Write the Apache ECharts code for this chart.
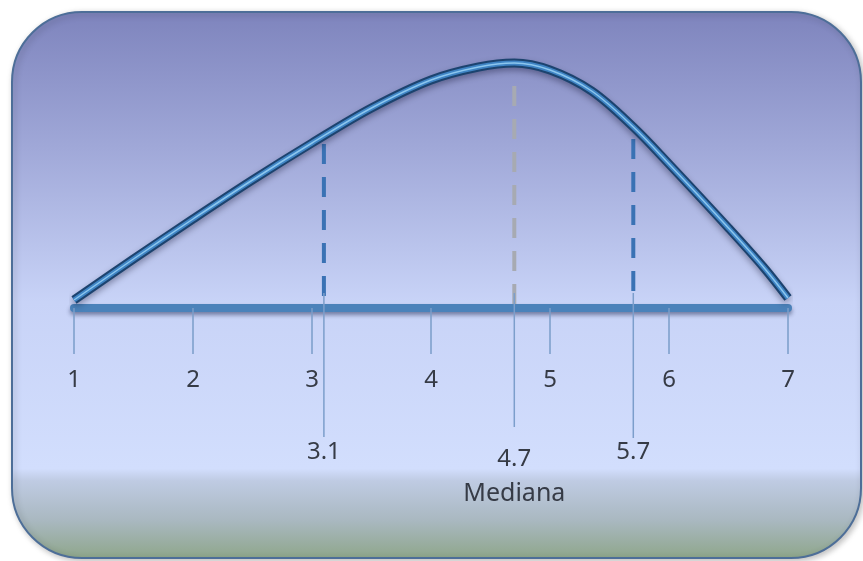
<!DOCTYPE html>
<html>
<head>
<meta charset="utf-8">
<script src="https://cdn.jsdelivr.net/npm/echarts@6/dist/echarts.min.js"></script>
<style>
  html, body { margin: 0; padding: 0; background: #ffffff; }
  #chart { width: 863px; height: 561px; }
</style>
</head>
<body>
<div id="chart"></div>
<script>
// ---- data ----
const xTicks = [1, 2, 3, 4, 5, 6, 7];
const curveX = [1, 1.5, 2, 2.5, 3, 3.5, 4, 4.4, 4.7, 5, 5.35, 5.7, 6, 6.5, 6.8, 7];
const curveY = [8, 49, 89, 128, 165, 200, 228, 241, 245, 238, 217, 181, 144, 80, 40, 10];
const markerValues = [3.1, 4.7, 5.7];
const markerLabels = ['3.1', '4.7', '5.7'];
const markerDashTop = [164, 222, 169];
const markerNotes = ['', 'Mediana', ''];

// ---- layout / style (not data) ----
const markerStyle = [
  { dash: '#3a72b4', below: 129, labelDy: 144, noteDy: 0 },
  { dash: '#a7aab2', below: 119, labelDy: 151, noteDy: 186 },
  { dash: '#3a72b4', below: 130, labelDy: 144, noteDy: 0 }
];
const FONT = '"Noto Sans", "Open Sans", sans-serif';
const TEXT = '#363b46';

const curveData = curveX.map((x, i) => [x, curveY[i]]);
const markerData = markerValues.map((v, i) => [v, markerDashTop[i]]);

const chart = echarts.init(document.getElementById('chart'));

const option = {
  animation: false,
  graphic: {
    elements: [{
      type: 'rect',
      z: -100,
      shape: { x: 12, y: 12, width: 849, height: 546, r: 70 },
      style: {
        fill: new echarts.graphic.LinearGradient(0, 0, 0, 1, [
          { offset: 0, color: '#7e84bd' },
          { offset: 0.25, color: '#a0a8d8' },
          { offset: 0.53, color: '#c8d3f7' },
          { offset: 0.835, color: '#d2defd' },
          { offset: 0.857, color: '#bfcbe3' },
          { offset: 0.93, color: '#a9b8c0' },
          { offset: 1, color: '#8ea68a' }
        ]),
        stroke: '#4d6e98',
        lineWidth: 2,
        shadowBlur: 6,
        shadowColor: 'rgba(0,0,0,0.25)',
        shadowOffsetX: 2,
        shadowOffsetY: 2
      }
    }]
  },
  grid: { left: 74, right: 75, top: 58, bottom: 253, containLabel: false, outerBoundsMode: 'none' },
  xAxis: {
    type: 'value',
    min: 1,
    max: 7,
    interval: 1,
    axisLine: {
      lineStyle: {
        color: '#4b82ba',
        width: 8,
        shadowColor: 'rgba(10,20,60,0.45)',
        shadowBlur: 4,
        shadowOffsetY: 3
      }
    },
    axisTick: { show: true, length: 46, lineStyle: { color: '#7b9dc9', width: 1.5 } },
    axisLabel: {
      margin: 60,
      fontSize: 24,
      fontFamily: FONT,
      color: TEXT,
      formatter: (v) => xTicks.includes(v) ? String(v) : ''
    },
    splitLine: { show: false }
  },
  yAxis: {
    type: 'value',
    min: 0,
    max: 250,
    show: false,
    splitLine: { show: false }
  },
  series: [
    {
      type: 'custom',
      z: 1,
      clip: false,
      data: markerData,
      renderItem: function (params, api) {
        const i = params.dataIndex;
        const v = api.value(0);
        const top = api.coord([v, api.value(1)]);
        const base = api.coord([v, 0]);
        const st = markerStyle[i];
        const children = [
          {
            type: 'line',
            shape: { x1: base[0], y1: top[1], x2: base[0], y2: base[1] - 4 },
            style: { stroke: st.dash, lineWidth: 4, lineDash: [20, 13] }
          },
          {
            type: 'line',
            z2: 5,
            shape: { x1: base[0], y1: base[1] - 15, x2: base[0], y2: base[1] + st.below },
            style: { stroke: '#7c9ecb', lineWidth: 1.5 }
          },
          {
            type: 'text',
            x: base[0],
            y: base[1] + st.labelDy,
            style: {
              text: markerLabels[i], fill: TEXT, fontSize: 24, fontFamily: FONT,
              align: 'center', verticalAlign: 'middle'
            }
          }
        ];
        if (markerNotes[i]) {
          children.push({
            type: 'text',
            x: base[0],
            y: base[1] + st.noteDy,
            style: {
              text: markerNotes[i], fill: TEXT, fontSize: 25, fontFamily: FONT,
              align: 'center', verticalAlign: 'middle'
            }
          });
        }
        return { type: 'group', children: children };
      }
    },
    {
      type: 'line',
      z: 3,
      data: curveData,
      smooth: 0.35,
      symbol: 'none',
      lineStyle: {
        color: '#1c436f',
        width: 9,
        cap: 'butt',
        shadowColor: 'rgba(0,0,30,0.35)',
        shadowBlur: 6,
        shadowOffsetY: 3
      }
    },
    {
      type: 'line',
      z: 4,
      data: curveData,
      smooth: 0.35,
      symbol: 'none',
      lineStyle: { color: '#3f84c4', width: 5, cap: 'butt' }
    },
    {
      type: 'line',
      z: 5,
      data: curveData,
      smooth: 0.35,
      symbol: 'none',
      lineStyle: { color: '#8cc6ee', width: 1.5, cap: 'butt' }
    }
  ]
};

chart.setOption(option);
</script>
</body>
</html>
